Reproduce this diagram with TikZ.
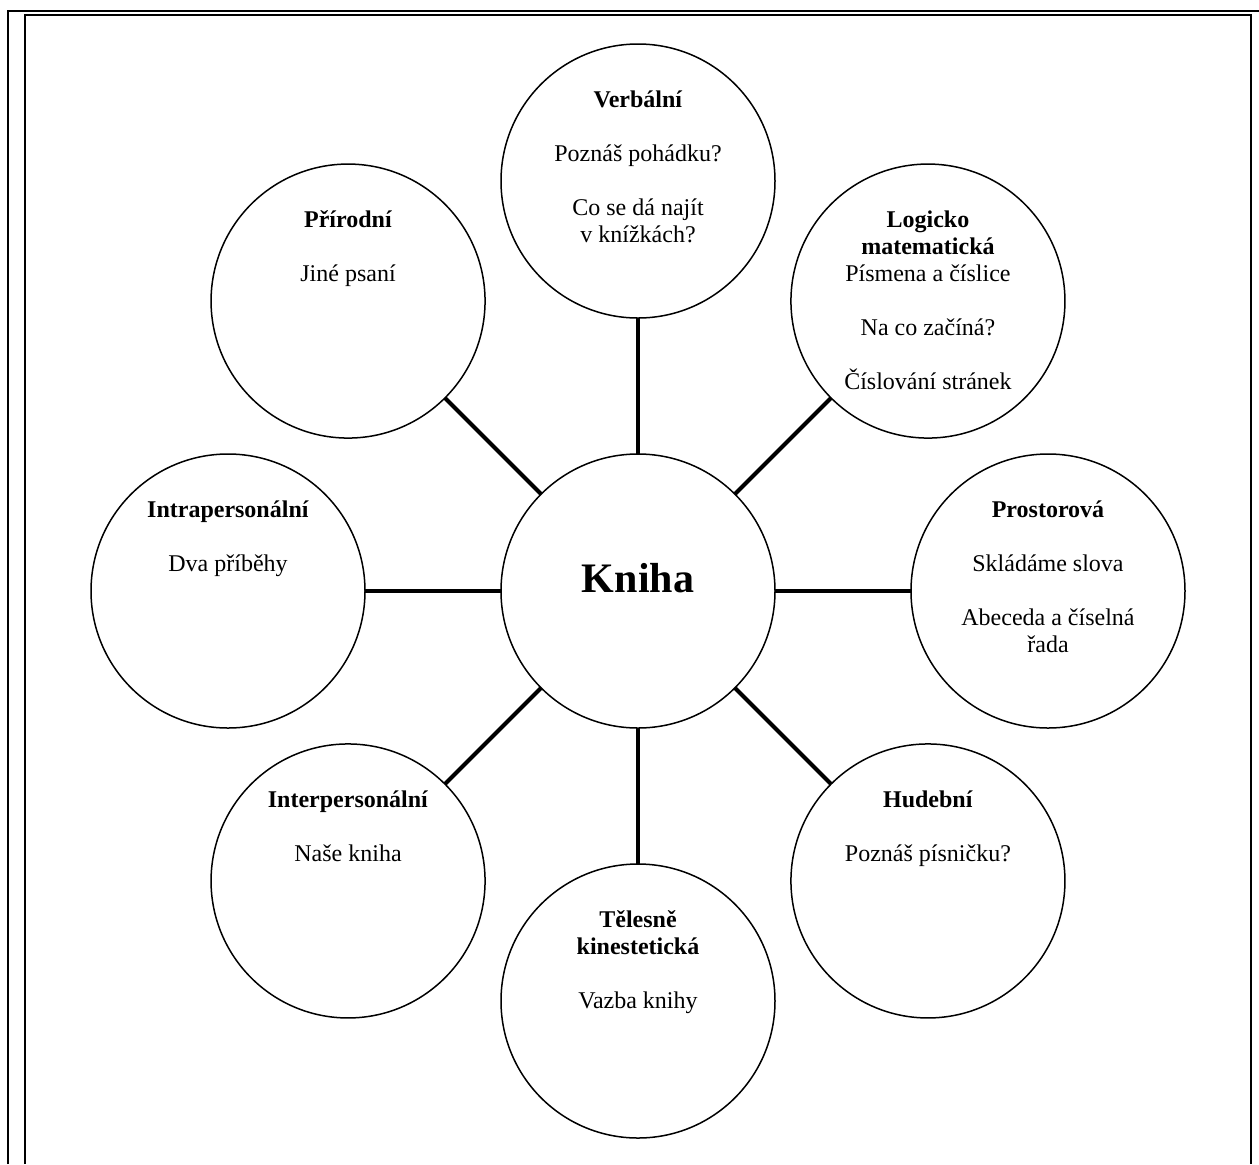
\documentclass[tikz,border=0pt]{standalone}
\usepackage{fontspec}
\setmainfont{Liberation Serif}
\usepackage{tikz}
\usetikzlibrary{positioning}
\newcommand{\bubtitle}[1]{\rule{0pt}{11pt}\textbf{#1}}

\begin{document}
\begin{tikzpicture}[
    x=0.5pt, y=-0.5pt,
    bubble/.style={draw, circle, line width=0.75pt, minimum size=137pt, inner sep=0pt, outer sep=0pt},
    bubbletext/.style={align=center, anchor=north, inner sep=0pt, font={\fontsize{12pt}{13.5pt}\selectfont}},
    hubtext/.style={anchor=base, inner sep=0pt, font={\fontsize{21pt}{25pt}\selectfont\bfseries}},
    spoke/.style={line width=2pt},
    frameline/.style={line width=1pt}
  ]
  \useasboundingbox (0,0) rectangle (1259,1164);

  % page frame
  \draw[frameline] (8,1164) -- (8,11) -- (1259,11);
  \draw[frameline, line width=0.9pt] (25,1164) -- (25,15) -- (1251,15) -- (1251,1164);

  \node[bubble] (kniha) at (638,591) {};
  \node[hubtext] (knihatxt) at ([yshift=-0.5pt]kniha.center) {Kniha};

  \node[bubble, above=68pt of kniha] (verbal) {};
  \node[bubble, above right=48.1pt and 48.1pt of kniha] (logic) {};
  \node[bubble, right=68pt of kniha] (space) {};
  \node[bubble, below right=48.1pt and 48.1pt of kniha] (music) {};
  \node[bubble, below=68pt of kniha] (body) {};
  \node[bubble, below left=48.1pt and 48.1pt of kniha] (inter) {};
  \node[bubble, left=68pt of kniha] (intra) {};
  \node[bubble, above left=48.1pt and 48.1pt of kniha] (nature) {};

  \node[bubbletext] (verbaltxt) at ([yshift=-20.5pt]verbal.north)
  {\bubtitle{Verbální}\\[13.5pt] Poznáš pohádku?\\[13.5pt] Co se dá najít\\ v knížkách?};
  \node[bubbletext] (logictxt) at ([yshift=-20.5pt]logic.north)
  {\bubtitle{Logicko}\\ \textbf{matematická}\\ Písmena a číslice\\[13.5pt] Na co začíná?\\[13.5pt] Číslování stránek};
  \node[bubbletext] (spacetxt) at ([yshift=-20.5pt]space.north)
  {\bubtitle{Prostorová}\\[13.5pt] Skládáme slova\\[13.5pt] Abeceda a číselná\\ řada};
  \node[bubbletext] (musictxt) at ([yshift=-20.5pt]music.north)
  {\bubtitle{Hudební}\\[13.5pt] Poznáš písničku?};
  \node[bubbletext] (bodytxt) at ([yshift=-20.5pt]body.north)
  {\bubtitle{Tělesně}\\ \textbf{kinestetická}\\[13.5pt] Vazba knihy};
  \node[bubbletext] (intertxt) at ([yshift=-20.5pt]inter.north)
  {\bubtitle{Interpersonální}\\[13.5pt] Naše kniha};
  \node[bubbletext] (intratxt) at ([yshift=-20.5pt]intra.north)
  {\bubtitle{Intrapersonální}\\[13.5pt] Dva příběhy};
  \node[bubbletext] (naturetxt) at ([yshift=-20.5pt]nature.north)
  {\bubtitle{Přírodní}\\[13.5pt] Jiné psaní};

  \foreach \sat in {verbal,logic,space,music,body,inter,intra,nature}
    \draw[spoke] (kniha) -- (\sat);
\end{tikzpicture}
\end{document}
